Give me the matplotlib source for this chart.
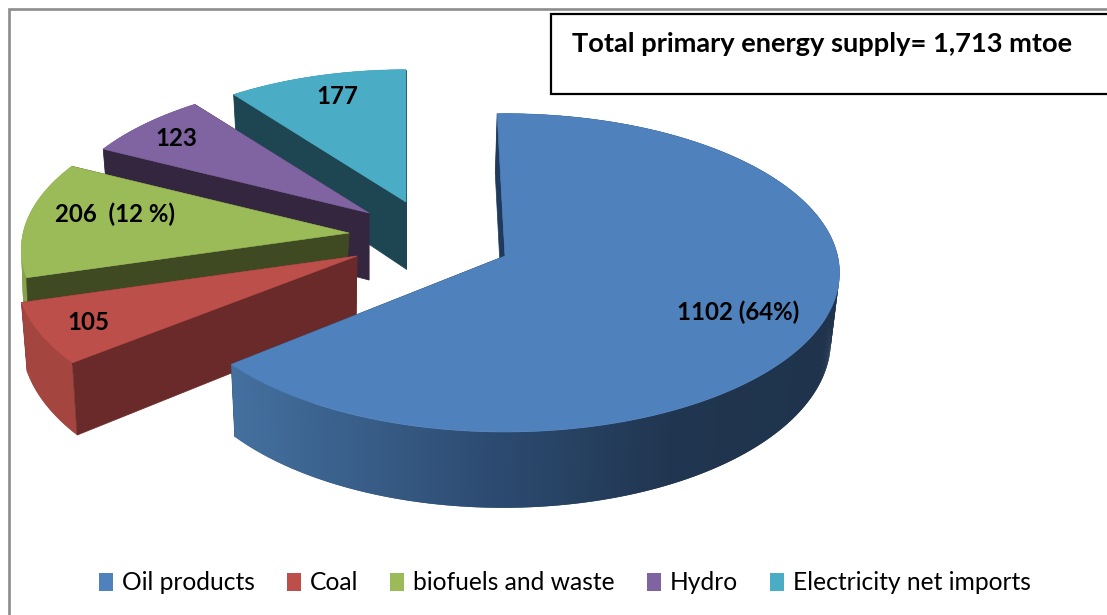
import numpy as np
import matplotlib
matplotlib.use("Agg")
import matplotlib.pyplot as plt
from matplotlib.colors import to_rgb
from matplotlib.patches import Patch, Polygon, Rectangle

categories = ["Oil products", "Coal", "biofuels and waste", "Hydro", "Electricity net imports"]
values = [1102, 105, 206, 123, 177]
point_labels = ["1102 (64%)", "105", "206  (12 %)", "123", "177"]
total_label = "Total primary energy supply= 1,713 mtoe"

top_colors = ["#4f81bd", "#bd4f4b", "#9bbb59", "#8064a2", "#4bacc6"]
face_colors = ["#1f3a5c", "#6b2a2a", "#404a22", "#35263f", "#1d4552"]
rim_colors = ["#44709f", "#a44540", "#86a34c", "#6a5388", "#3d8ea5"]

# where each slice's point sits after explosion, and how far it recedes
apex_x = [505, 357, 349, 369, 406]
apex_y = [256, 256, 233, 213, 202]
slice_scale = [0.99, 1.01, 0.97, 0.93, 0.92]
slice_turn = [-1.5, 0, 0, 0, 0]
wall_lean = [-2, -1, -4, 0, 0]
label_x = [738, 88, 115, 176, 337]
label_y = [312, 322, 214, 138, 96]

RX, RY, PERSP = 336, 159, 0.1056
WALL = 67

plt.rcParams["font.family"] = ["Lato", "DejaVu Sans"]


def rim_point(deg, ax_, ay_, scale):
    a = np.radians(deg)
    s = -np.cos(a)
    k = scale / (1 - PERSP * s)
    return ax_ + RX * np.sin(a) * k, ay_ + RY * s * k


def lower(x, y, ax_, ay_, lean):
    return ax_ + lean + (x - ax_) * 0.98, ay_ + WALL + (y - ay_) * 1.05


def blue_shade(x):
    stops = [232, 500, 680, 835]
    cols = [to_rgb("#44709f"), to_rgb("#2c4a70"), to_rgb("#20354f"), to_rgb("#1f334c")]
    return tuple(np.interp(x, stops, [c[i] for c in cols]) for i in range(3))


fig = plt.figure(figsize=(11.07, 6.15), dpi=100)
ax = fig.add_axes([0, 0, 1, 1])
ax.set_xlim(0, 1107)
ax.set_ylim(615, 0)
ax.axis("off")

ax.plot([8.5, 8.5, 1107], [615, 9, 9], color="#8c8c8c", lw=1.9, solid_joinstyle="miter")

edges = np.cumsum([0] + values) / sum(values) * 360

# back slices first so the front ones cover them
for i in [4, 3, 2, 1, 0]:
    start, end = edges[i] + slice_turn[i], edges[i + 1] + slice_turn[i]
    ax_, ay_, sc = apex_x[i], apex_y[i], slice_scale[i]
    degs = np.linspace(start, end, max(int(end - start) * 2, 12))
    xs, ys = rim_point(degs, ax_, ay_, sc)
    bx, by = lower(xs, ys, ax_, ay_, wall_lean[i])
    low_ax, low_ay = lower(ax_, ay_, ax_, ay_, wall_lean[i])

    def side(j):
        ax.add_patch(Polygon([(ax_, ay_), (xs[j], ys[j]), (bx[j], by[j]), (low_ax, low_ay)],
                             fc=face_colors[i], ec=face_colors[i], lw=0.5))

    side(-1)
    # each strip runs under the next one, that stops seams showing
    for j in range(len(degs) - 1):
        k = min(j + 2, len(degs) - 1)
        col = blue_shade(xs[j]) if i == 0 else rim_colors[i]
        ax.add_patch(Polygon([(xs[j], ys[j]), (xs[k], ys[k]), (bx[k], by[k]), (bx[j], by[j])],
                             fc=col, ec="none"))
    side(0)
    top = [(ax_, ay_)] + list(zip(xs, ys))
    ax.add_patch(Polygon(top, fc=top_colors[i], ec=top_colors[i], lw=0.4))

for lab, x, y in zip(point_labels, label_x, label_y):
    ax.text(x, y, lab, fontsize=17.3, fontweight="bold", ha="center", va="center", color="black")

ax.add_patch(Rectangle((551, 14), 600, 80, fc="white", ec="black", lw=1.6))
ax.text(572, 44, total_label, fontsize=19.6, fontweight="bold", ha="left", va="center", color="black")

handles = [Patch(fc=c, ec="none", label=n) for c, n in zip(top_colors, categories)]
ax.legend(handles=handles, loc="center", bbox_to_anchor=(565 / 1107, 1 - 583 / 615), ncol=5,
          frameon=False, fontsize=17.7, handlelength=0.57, handleheight=0.72, handletextpad=0.37,
          columnspacing=1.29, borderpad=0)

fig.savefig("out.png", dpi=100)
